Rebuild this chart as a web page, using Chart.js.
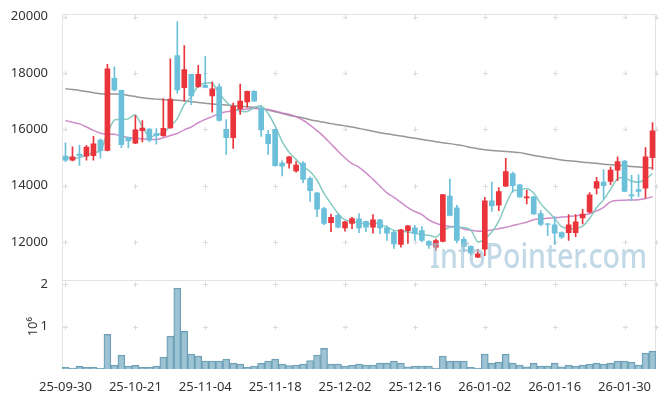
<!DOCTYPE html>
<html>
<head>
<meta charset="utf-8">
<script src="https://cdn.jsdelivr.net/npm/chart.js@4"></script>
<style>
  html, body { margin: 0; padding: 0; background: #fff; }
  #wrap { width: 665px; height: 398px; position: relative; }
</style>
</head>
<body>
<div id="wrap"><canvas id="chart" width="665" height="398"></canvas></div>
<script>
// ===== data =====
const dates = [
  '25-09-30','25-10-01','25-10-02','25-10-10','25-10-13','25-10-14','25-10-15','25-10-16','25-10-17','25-10-20',
  '25-10-21','25-10-22','25-10-23','25-10-24','25-10-27','25-10-28','25-10-29','25-10-30','25-10-31','25-11-03',
  '25-11-04','25-11-05','25-11-06','25-11-07','25-11-10','25-11-11','25-11-12','25-11-13','25-11-14','25-11-17',
  '25-11-18','25-11-19','25-11-20','25-11-21','25-11-24','25-11-25','25-11-26','25-11-27','25-11-28','25-12-01',
  '25-12-02','25-12-03','25-12-04','25-12-05','25-12-08','25-12-09','25-12-10','25-12-11','25-12-12','25-12-15',
  '25-12-16','25-12-17','25-12-18','25-12-19','25-12-22','25-12-23','25-12-24','25-12-26','25-12-29','25-12-30',
  '26-01-02','26-01-05','26-01-06','26-01-07','26-01-08','26-01-09','26-01-12','26-01-13','26-01-14','26-01-15',
  '26-01-16','26-01-19','26-01-20','26-01-21','26-01-22','26-01-23','26-01-26','26-01-27','26-01-28','26-01-29',
  '26-01-30','26-02-02','26-02-03','26-02-04','26-02-05'
];
const opens = [
  15050,14900,15120,15040,15060,15620,15250,17810,17380,15710,
  15510,15950,16010,15850,15770,16050,18620,17480,17950,17510,
  17560,17180,17510,16000,15700,16720,16970,17350,16740,15820,
  16000,14800,14800,14520,14800,14260,13740,13180,12680,12940,
  12500,12660,12820,12730,12520,12780,12500,12350,11910,12400,
  12500,12400,12020,11810,12020,13630,13210,12090,11840,11460,
  11740,13460,13300,13980,14430,14030,13560,13600,13010,12640,
  12610,12330,12330,12330,12850,13060,13910,14120,14150,14550,
  14870,13670,13860,13910,14990
];
const highs = [
  15520,15380,15440,15430,15750,15660,18310,18220,17390,15720,
  16490,16310,16020,16020,17090,18500,19820,18970,17960,18270,
  18590,17680,17610,16340,16930,17600,17360,17370,16830,15960,
  16010,14880,15040,14850,14850,14310,13750,13230,12990,12990,
  12730,12870,13010,12740,12970,12800,12570,12400,12450,12590,
  12590,12540,12050,12100,13680,14240,13300,12170,11860,11740,
  13580,14120,13930,14970,14480,14050,13840,13620,13110,12660,
  12900,12360,12970,12970,13160,13750,14290,14570,14660,15020,
  14900,14360,14380,15350,16240
];
const lows = [
  14850,14880,14720,14900,14900,14970,15230,17360,15350,15340,
  15490,15550,15550,15470,15750,16030,17280,17000,16870,17490,
  17470,16610,16290,15110,15320,16530,16780,17000,15750,15110,
  14690,14340,14620,14480,14100,13440,12900,12610,12360,12500,
  12380,12470,12330,12360,12310,12290,12050,11770,11810,11950,
  12050,12000,11770,11700,12000,12920,11960,11650,11530,11440,
  11510,13080,13110,13960,13770,13580,13350,12980,12570,12220,
  11910,12120,12050,12190,12640,13040,13700,13530,14030,14170,
  13780,13460,13600,13560,14570
];
const closes = [
  14900,15020,15060,15370,15480,15240,18150,17400,15450,15590,
  15980,16040,15610,15770,16030,17070,17400,18120,17180,17950,
  17490,17440,16310,15700,16810,17000,17350,17000,15980,15490,
  14710,14690,15020,14730,14220,13820,13160,12660,12870,12520,
  12710,12830,12500,12520,12780,12500,12310,11930,12430,12570,
  12290,12050,11880,12050,13680,12940,12050,11840,11600,11580,
  13460,13280,13790,14500,14000,13600,13600,12990,12620,12620,
  12310,12170,12610,12710,12990,13670,14140,14000,14550,14850,
  13790,13630,13790,15020,15940
];
const ma5 = [
  15010,14960,15000,15080,15170,15230,15860,16330,16340,16370,
  16510,16090,15730,15800,15890,16100,16380,16880,17160,17540,
  17630,17640,17270,16980,16750,16650,16630,16770,16830,16560,
  16110,15570,15180,14930,14670,14500,14190,13720,13350,13010,
  12780,12720,12690,12620,12670,12630,12520,12410,12390,12350,
  12310,12250,12240,12170,12390,12520,12520,12510,12420,12000,
  12110,12350,12740,13320,13810,13830,13900,13740,13360,13090,
  12830,12540,12470,12480,12560,12830,13220,13500,13870,14240,
  14270,14160,14120,14220,14430
];
const ma20 = [
  16310,16250,16190,16080,15960,15860,15830,15820,15760,15700,
  15680,15660,15640,15640,15700,15780,15850,15980,16080,16230,
  16350,16450,16560,16620,16660,16700,16720,16740,16730,16700,
  16650,16580,16530,16440,16320,16150,15950,15730,15480,15220,
  14980,14780,14650,14450,14220,13980,13740,13580,13400,13220,
  13080,12970,12780,12660,12580,12550,12530,12460,12410,12380,
  12390,12420,12470,12520,12580,12640,12700,12790,12820,12840,
  12860,12880,12900,12930,12960,13000,13100,13230,13420,13470,
  13480,13490,13500,13540,13600
];
const ma60 = [
  17440,17410,17380,17340,17300,17260,17250,17250,17240,17200,
  17160,17120,17090,17070,17050,17040,17030,17010,16980,16950,
  16920,16900,16880,16860,16840,16820,16800,16780,16730,16680,
  16620,16560,16500,16450,16400,16340,16290,16250,16200,16160,
  16120,16080,16030,15980,15930,15880,15840,15800,15760,15720,
  15680,15640,15600,15560,15520,15490,15450,15410,15350,15310,
  15270,15250,15230,15210,15190,15170,15120,15070,15030,14990,
  14950,14910,14880,14860,14830,14810,14790,14760,14740,14720,
  14700,14680,14660,14640,14620
];
const volumes = [
  40000,20000,63000,40000,40000,20000,816000,94000,330000,70000,
  86000,40000,40000,70000,280000,776000,1906000,886000,353000,306000,
  188000,188000,188000,235000,140000,118000,40000,70000,140000,188000,
  235000,118000,78000,94000,118000,200000,330000,486000,118000,118000,
  70000,94000,118000,94000,94000,140000,140000,188000,140000,50000,
  70000,70000,70000,24000,306000,188000,188000,188000,40000,20000,
  353000,140000,165000,353000,140000,94000,50000,140000,70000,70000,
  140000,50000,94000,70000,94000,118000,140000,118000,140000,188000,
  188000,165000,94000,376000,420000
];
const priceTicks = [12000, 14000, 16000, 18000, 20000];
const volumeTicks = [1000000, 2000000];
const dateTickEvery = 10;

// ===== colours =====
const UP = '#e9343b';
const DOWN = '#6cc0da';
const candleColors = closes.map((c, i) => c >= opens[i] ? UP : DOWN);
const tickFont = { family: "'Noto Sans', 'Liberation Sans', sans-serif", size: 13 };
const tickColor = '#333';

// grid crosses, frame, watermark, volume unit
const frame = {
    id: 'frame',
    beforeDatasetsDraw(chart) {
        const { ctx, chartArea, scales } = chart;
        const xs = [];
        dates.forEach((d, i) => { if (i % dateTickEvery === 0) xs.push(scales.x.getPixelForValue(i)); });
        xs.push(chartArea.right);
        const ys = priceTicks.map(v => scales.y.getPixelForValue(v))
            .concat(volumeTicks.map(v => scales.yv.getPixelForValue(v)));
        ctx.save();
        ctx.strokeStyle = '#dcdcdc';
        ctx.lineWidth = 1;
        ctx.beginPath();
        xs.forEach(x => ys.forEach(y => {
            const px = Math.round(x) + 0.5, py = Math.round(y) + 0.5;
            ctx.moveTo(px - 2.5, py); ctx.lineTo(px + 2.5, py);
            ctx.moveTo(px, py - 2.5); ctx.lineTo(px, py + 2.5);
        }));
        ctx.stroke();
        // frame + panel separator
        ctx.strokeStyle = '#e3e3e3';
        ctx.beginPath();
        const l = Math.round(chartArea.left) + 0.5, r = Math.round(chartArea.right) - 0.5;
        const t = Math.round(chartArea.top) + 0.5, b = Math.round(chartArea.bottom) + 0.5;
        const sep = Math.round(scales.y.bottom) + 0.5;
        ctx.moveTo(l, b); ctx.lineTo(l, t); ctx.lineTo(r, t); ctx.lineTo(r, b);
        ctx.moveTo(l, sep); ctx.lineTo(r, sep);
        ctx.stroke();
        ctx.restore();
    },
    afterDatasetsDraw(chart) {
        const { ctx, scales } = chart;
        ctx.save();
        // watermark, squeezed to the width it has in the reference
        ctx.font = "500 34px 'Noto Sans', sans-serif";
        ctx.fillStyle = 'rgba(160,195,216,0.65)';
        ctx.textAlign = 'left';
        ctx.textBaseline = 'alphabetic';
        const wm = 'InfoPointer.com';
        const w = ctx.measureText(wm).width;
        ctx.save();
        ctx.translate(430, 268);
        ctx.scale(217 / w, 1);
        ctx.fillText(wm, 0, 0);
        ctx.restore();
        // volume unit
        ctx.translate(33, (scales.yv.top + scales.yv.bottom) / 2 + 2);
        ctx.rotate(-Math.PI / 2);
        ctx.fillStyle = tickColor;
        ctx.textAlign = 'center';
        ctx.textBaseline = 'middle';
        ctx.font = "13px 'Noto Sans', sans-serif";
        ctx.fillText('10\u2076', 0, 0);
        ctx.restore();
    }
};

new Chart(document.getElementById('chart').getContext('2d'), {
    type: 'bar',
    data: {
        labels: dates,
        datasets: [
            {
                type: 'line', label: 'MA5', data: ma5, yAxisID: 'y',
                borderColor: 'rgba(128,199,190,0.95)', borderWidth: 1.5,
                pointRadius: 0, tension: 0.25, order: 5
            },
            {
                type: 'line', label: 'MA20', data: ma20, yAxisID: 'y',
                borderColor: 'rgba(200,128,195,0.9)', borderWidth: 1.5,
                pointRadius: 0, tension: 0.3, order: 5
            },
            {
                type: 'line', label: 'MA60', data: ma60, yAxisID: 'y',
                borderColor: 'rgba(140,140,140,0.9)', borderWidth: 1.5,
                pointRadius: 0, tension: 0.3, order: 5
            },
            {
                label: 'wick', yAxisID: 'y',
                data: lows.map((lo, i) => [lo, highs[i]]),
                backgroundColor: candleColors, barThickness: 1,
                grouped: false, order: 2
            },
            {
                label: 'body', yAxisID: 'y',
                data: opens.map((o, i) => [o, closes[i]]),
                backgroundColor: candleColors, barThickness: 5,
                grouped: false, order: 1
            },
            {
                label: 'volume', yAxisID: 'yv', data: volumes,
                backgroundColor: 'rgba(140,185,205,0.85)',
                borderColor: '#6b9db3', borderWidth: 1,
                barPercentage: 1, categoryPercentage: 1,
                grouped: false, order: 3
            }
        ]
    },
    options: {
        responsive: false,
        animation: false,
        layout: { padding: { top: 12, right: 9, left: 0, bottom: 0 } },
        plugins: { legend: { display: false }, tooltip: { enabled: false } },
        scales: {
            x: {
                offset: true,
                grid: { display: false },
                border: { display: false },
                ticks: {
                    autoSkip: false, maxRotation: 0, minRotation: 0,
                    font: tickFont, color: tickColor, padding: 2,
                    callback: (v, i) => i % dateTickEvery === 0 ? dates[i] : ''
                },
                afterFit: s => { s.height = 29; }
            },
            yv: {
                position: 'left', stack: 'panels', stackWeight: 1,
                min: 0, max: 2090000,
                grid: { display: false },
                border: { display: false },
                afterBuildTicks: s => { s.ticks = volumeTicks.map(v => ({ value: v })); },
                ticks: {
                    font: tickFont, color: tickColor, padding: 6,
                    callback: v => String(v / 1000000)
                },
                afterFit: s => { s.width = 62; }
            },
            y: {
                position: 'left', stack: 'panels', stackWeight: 3,
                min: 10640, max: 20100,
                grid: { display: false },
                border: { display: false },
                afterBuildTicks: s => { s.ticks = priceTicks.map(v => ({ value: v })); },
                ticks: {
                    font: tickFont, color: tickColor, padding: 6,
                    callback: v => String(v)
                },
                afterFit: s => { s.width = 62; }
            }
        }
    },
    plugins: [frame]
});
</script>
</body>
</html>
